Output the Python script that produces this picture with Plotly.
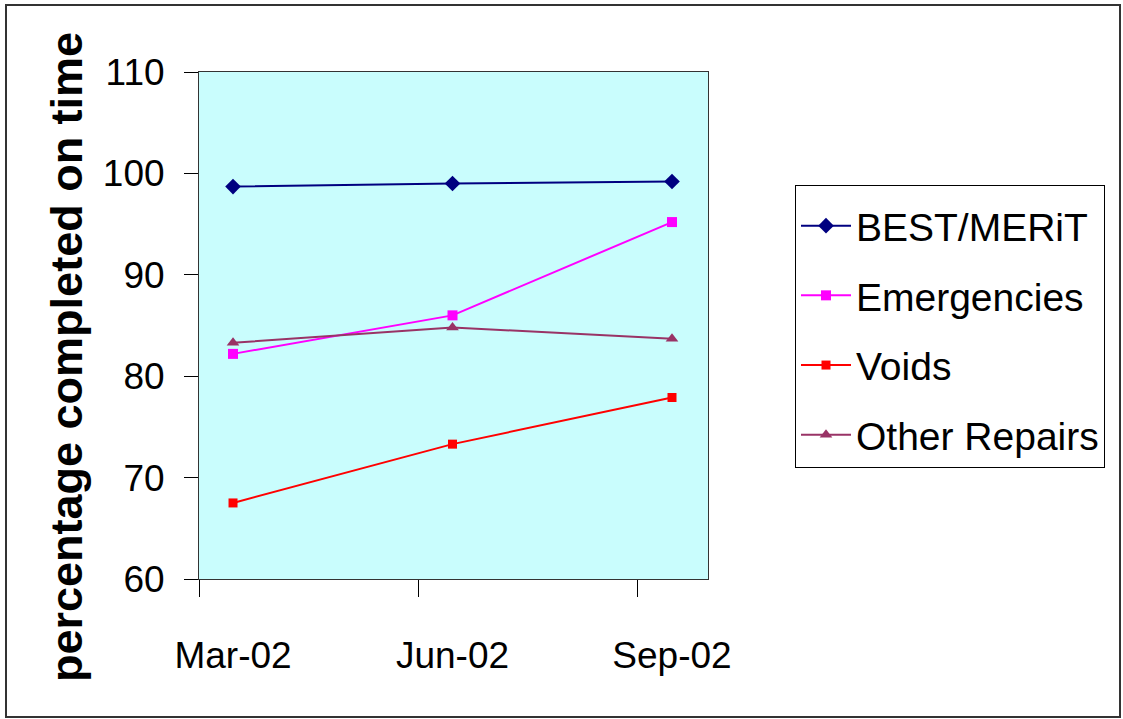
import plotly.graph_objects as go

categories = ["Mar-02", "Jun-02", "Sep-02"]
best_merit = [98.7, 99.0, 99.2]
emergencies = [82.2, 86.0, 95.2]
voids = [67.5, 73.3, 77.9]
other_repairs = [83.3, 84.8, 83.7]
y_title = "percentage completed on time"

series = [
    ("BEST/MERiT", best_merit, "#000080", "diamond", 12),
    ("Emergencies", emergencies, "#ff00ff", "square", 10),
    ("Voids", voids, "#ff0000", "square", 9),
    ("Other Repairs", other_repairs, "#993366", "triangle-up", 11),
]

xpos = list(range(len(categories)))
offset = 0.155
boundaries = [i - offset for i in xpos]

fig = go.Figure()
for i, (name, vals, color, sym, size) in enumerate(series):
    fig.add_trace(go.Scatter(
        x=xpos, y=vals, name=name, mode="lines+markers",
        line=dict(color=color, width=2),
        marker=dict(symbol=sym, size=size, color=color),
        legendgroup=f"g{i}",
    ))

W, H = 1123, 719
L, R, T, B = 199, 415, 72, 140
pw, ph = W - L - R, H - T - B

def px_x(p):
    return (p - L) / pw

def px_y(p):
    return (H - B - p) / ph

fig.update_layout(
    width=W, height=H,
    margin=dict(l=L, r=R, t=T, b=B, autoexpand=False),
    paper_bgcolor="white",
    plot_bgcolor="#c9fdfd",
    font=dict(family="Liberation Sans, Arial, sans-serif", color="black", size=36),
    showlegend=True,
    legend=dict(
        x=px_x(795), y=px_y(185), xanchor="left", yanchor="top",
        bordercolor="black", borderwidth=1, bgcolor="white",
        font=dict(size=39), tracegroupgap=16, traceorder="grouped",
        itemwidth=50,
        title=dict(text=" ", font=dict(size=6)),
    ),
    xaxis=dict(
        range=[-offset, len(categories) - 1 + 0.164],
        tickmode="array", tickvals=xpos, ticktext=categories,
        ticks="outside", ticklen=0, tickcolor="black",
        ticklabelstandoff=44,
        showgrid=False, zeroline=False,
        showline=True, linecolor="#333333", linewidth=1, mirror=True,
        minor=dict(tickmode="array", tickvals=boundaries, ticks="outside",
                   ticklen=17, tickcolor="black", tickwidth=1, showgrid=False),
        tickfont=dict(size=37),
    ),
    yaxis=dict(
        range=[60, 110], tickmode="linear", tick0=60, dtick=10,
        ticks="outside", ticklen=14, tickcolor="black",
        ticklabelstandoff=12,
        showgrid=False, zeroline=False,
        showline=True, linecolor="#333333", linewidth=1, mirror=True,
        tickfont=dict(size=37),
    ),
    annotations=[dict(
        text=f"<b>{y_title}</b>", textangle=-90,
        xref="paper", yref="paper", x=px_x(66), y=px_y(357),
        xanchor="center", yanchor="middle", showarrow=False,
        font=dict(size=45),
    )],
    shapes=[dict(
        type="rect", xref="paper", yref="paper",
        x0=px_x(6), x1=px_x(1120), y0=px_y(717), y1=px_y(5),
        line=dict(color="#333333", width=2), fillcolor="rgba(0,0,0,0)",
        layer="below",
    )],
)

fig.write_html("out.html", config={"displayModeBar": False},
               post_script="document.body.style.margin='0';")
